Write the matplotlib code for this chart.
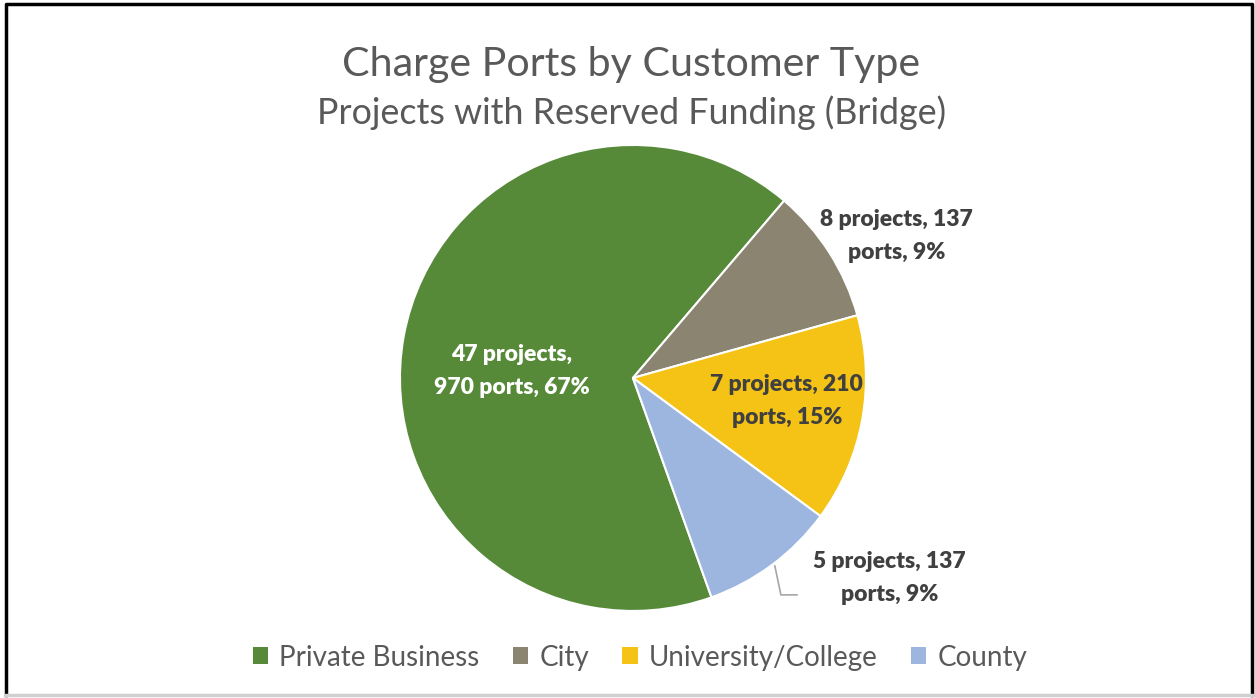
import matplotlib.pyplot as plt
from matplotlib.patches import Patch
from matplotlib.lines import Line2D

# data
categories = ['Private Business', 'City', 'University/College', 'County']
projects = [47, 8, 7, 5]
ports = [970, 137, 210, 137]
percent_labels = ['67%', '9%', '15%', '9%']
colors = ['#568A39', '#8B8470', '#F5C316', '#9DB6E0']

plt.rcParams['font.family'] = ['Lato', 'DejaVu Sans']

fig = plt.figure(figsize=(12.55, 6.98), dpi=100)

# chart border
fig.add_artist(Line2D([0.005, 0.005, 0.998, 0.998], [0.004, 0.994, 0.994, 0.004],
                      transform=fig.transFigure, color='black', lw=2.5))
fig.add_artist(Line2D([0.005, 0.998], [0.004, 0.004], transform=fig.transFigure,
                      color='#D0D0D0', lw=2.5))

fig.text(0.503, 0.908, 'Charge Ports by Customer Type', ha='center', va='center',
         fontsize=29.6, color='#595959')
fig.text(0.503, 0.838, 'Projects with Reserved Funding (Bridge)', ha='center', va='center',
         fontsize=25.8, color='#595959')

ax = fig.add_axes([0.3187, 0.1247, 0.3713, 0.6676])
wedges, _ = ax.pie(ports, colors=colors, startangle=-70.3, counterclock=False,
                   radius=1, wedgeprops=dict(edgecolor='white', linewidth=1.5))
ax.set_xlim(-1, 1)
ax.set_ylim(-1, 1)
ax.set_aspect('equal')

labels = ['%d projects,\n%d ports, %s' % (projects[0], ports[0], percent_labels[0])]
labels += ['%d projects, %d\nports, %s' % (projects[i], ports[i], percent_labels[i])
           for i in range(1, 4)]
label_pos = [(-0.52, 0.03), (1.13, 0.61), (0.66, -0.10), (1.10, -0.86)]
label_col = ['white', '#404040', '#404040', '#404040']
for lab, (x, y), c in zip(labels, label_pos, label_col):
    ax.text(x, y, lab, ha='center', va='center', fontsize=16.5, fontweight='heavy',
            color=c, linespacing=1.7, clip_on=False)

# leader line for County
ax.plot([0.609, 0.635, 0.704], [-0.807, -0.931, -0.931], color='#A6A6A6', lw=1.2,
        clip_on=False)

handles = [Patch(facecolor=c, edgecolor='none') for c in colors]
fig.legend(handles, categories, loc='center', bbox_to_anchor=(0.51, 0.058), ncol=4,
           frameon=False, fontsize=20, handlelength=0.55, handleheight=0.55,
           handletextpad=0.4, columnspacing=1.2, labelcolor='#595959')

fig.savefig('out.png', dpi=100)
